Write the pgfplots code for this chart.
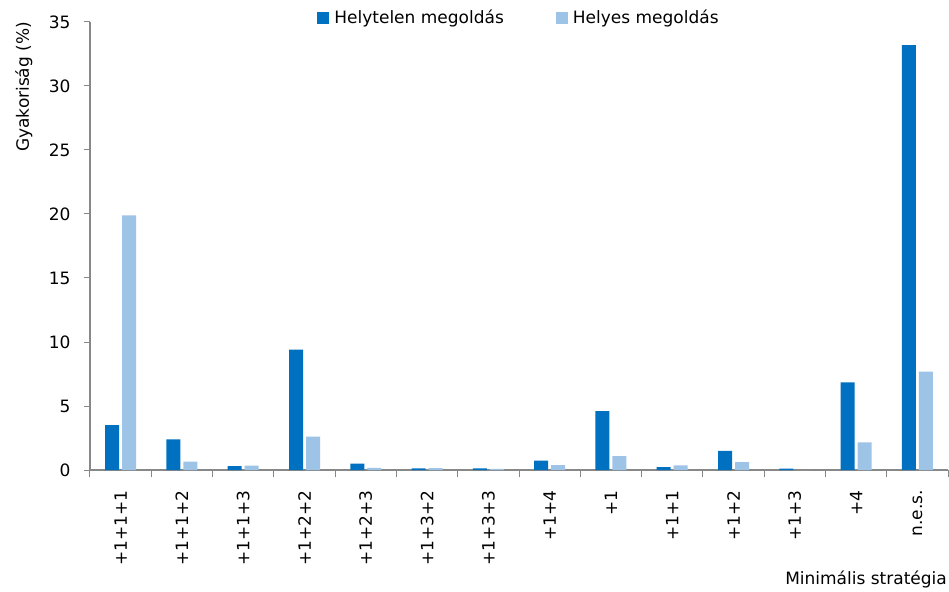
\documentclass[border=0pt]{standalone}
\usepackage{pgfplots}
\pgfplotsset{compat=1.18}
\usepackage{fontspec}
\setmainfont{DejaVu Sans}
\usetikzlibrary{calc}
\definecolor{dark}{HTML}{0070C0}
\definecolor{light}{HTML}{9DC3E6}
\definecolor{axgray}{HTML}{888888}
\begin{document}
\begin{tikzpicture}[x=1pt,y=1pt]
\begin{axis}[
  scale only axis,
  width=858pt, height=448pt,
  font=\fontsize{17}{20}\selectfont,
  /pgf/number format/assume math mode=true,
  ybar=3pt, bar width=14pt,
  xmin=-0.5, xmax=13.5,
  ymin=0, ymax=35,
  ytick={0,5,...,35},
  xtick={0,...,13},
  xticklabels={+1+1+1,+1+1+2,+1+1+3,+1+2+2,+1+2+3,+1+3+2,+1+3+3,+1+4,+1,+1+1,+1+2,+1+3,+4,n.e.s.},
  x tick label style={rotate=90, anchor=east, inner sep=2pt},
  xticklabel shift=12pt,
  yticklabel shift=10pt,
  minor xtick={-0.5,0.5,...,13.5},
  major x tick style={draw=none},
  minor x tick style={draw=axgray, line width=1pt},
  y tick style={draw=axgray, line width=1pt},
  tick align=outside,
  major tick length=6pt, minor tick length=7pt,
  axis x line*=bottom, axis y line*=left,
  axis line style={draw=axgray, line width=1.2pt, -},
  ylabel={Gyakoriság (\%)},
  ylabel style={at={(rel axis cs:0,0.855)}, anchor=south, yshift=54pt},
  xlabel={Minimális stratégia},
  xlabel style={at={(rel axis cs:1,0)}, anchor=base east, yshift=-114pt, xshift=-1pt, inner sep=0pt},
  legend style={draw=none, fill=none, at={(rel axis cs:0.5,1)}, anchor=north, yshift=16pt,
    legend columns=2, font=\fontsize{17}{20}\selectfont, column sep=3pt,
    /tikz/every even column/.append style={column sep=50pt}},
  legend image code/.code={\fill[#1] (0pt,-6pt) rectangle (12pt,6pt);},
]
\addplot[fill=dark, draw=none] coordinates {
(0,3.5) (1,2.4) (2,0.3) (3,9.4) (4,0.5) (5,0.13) (6,0.13) (7,0.73) (8,4.6) (9,0.23) (10,1.5) (11,0.1) (12,6.85) (13,33.2)};
\addlegendentry{Helytelen megoldás}
\addplot[fill=light, draw=none] coordinates {
(0,19.9) (1,0.65) (2,0.35) (3,2.6) (4,0.17) (5,0.15) (6,0.08) (7,0.39) (8,1.09) (9,0.36) (10,0.62) (11,0) (12,2.16) (13,7.68)};
\addlegendentry{Helyes megoldás}
\coordinate (bl) at (rel axis cs:0,0);
\coordinate (tr) at (rel axis cs:1,1);
\end{axis}
\pgfresetboundingbox
\path ($(bl)+(-90pt,-121pt)$) rectangle ($(tr)+(1pt,22pt)$);
\end{tikzpicture}
\end{document}
